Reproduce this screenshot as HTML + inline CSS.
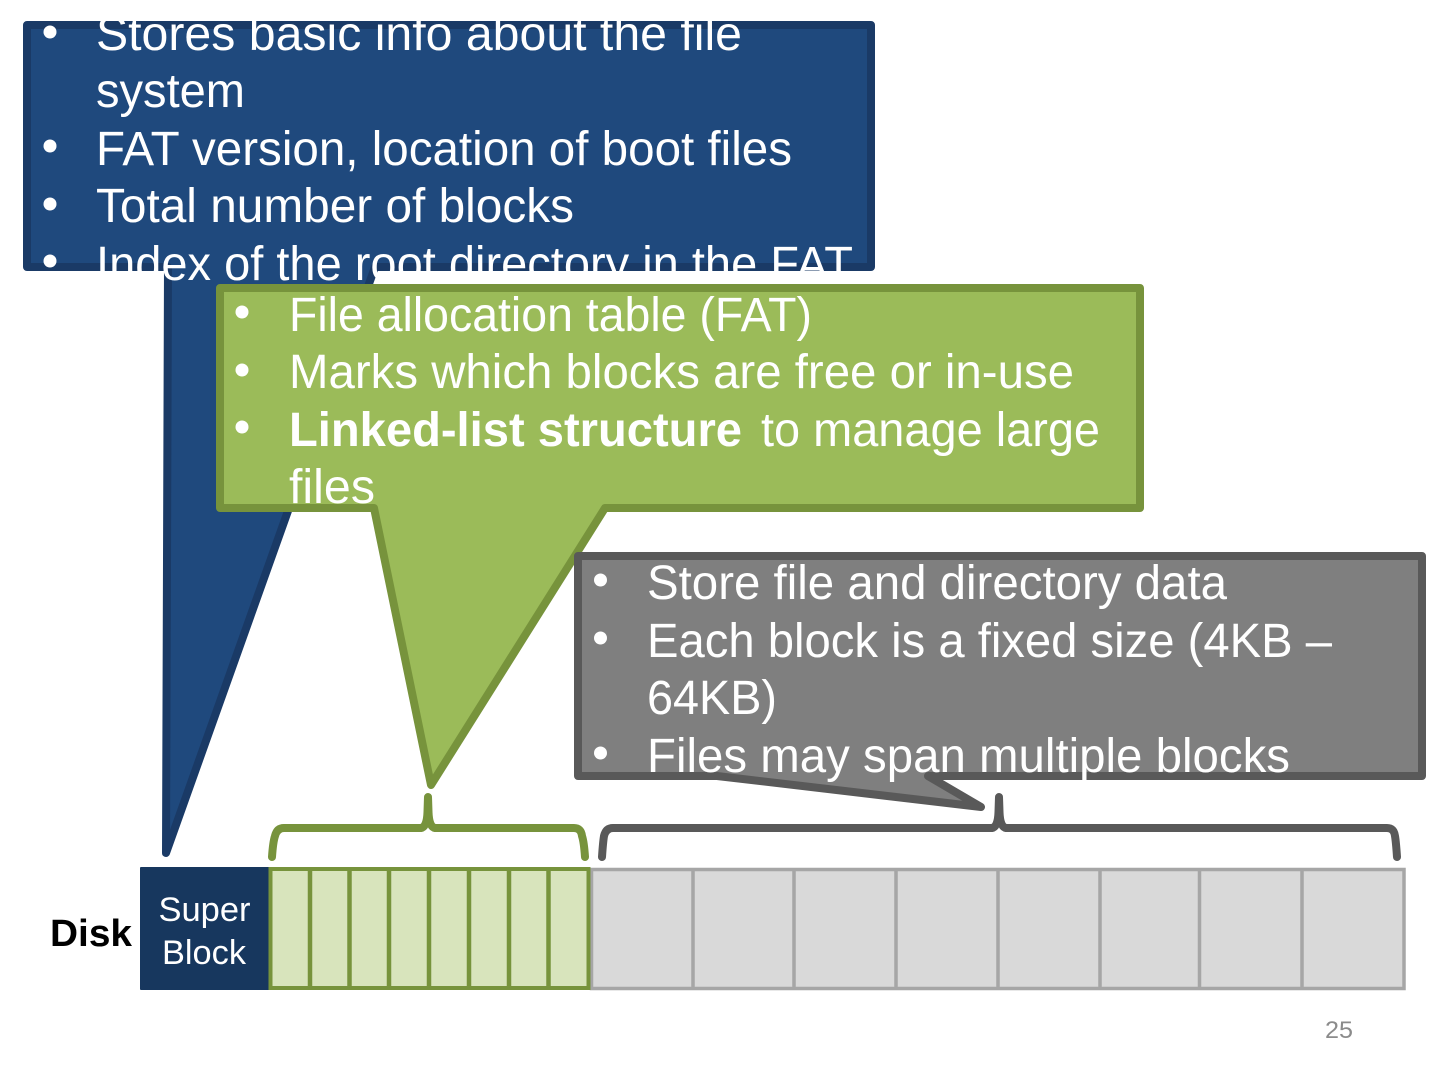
<!DOCTYPE html>
<html><head><meta charset="utf-8"><style>
html,body{margin:0;padding:0;background:#fff}
svg{display:block}
text{font-family:"Liberation Sans",sans-serif}
.t{font-size:48px;fill:#fff}
</style></head><body>
<svg width="1440" height="1080" viewBox="0 0 1440 1080" xmlns="http://www.w3.org/2000/svg">
<rect width="1440" height="1080" fill="#fff"/>
<path d="M27 25H871V267H375L166 853L168 267H27Z" fill="#1F497D" stroke="#1A3A66" stroke-width="8" stroke-linejoin="round"/>
<circle cx="50" cy="32" r="6.5" fill="#fff"/><circle cx="50" cy="146" r="6.5" fill="#fff"/><circle cx="50" cy="204" r="6.5" fill="#fff"/><circle cx="50" cy="261" r="6.5" fill="#fff"/>
<text class="t" x="96" y="50" textLength="646" lengthAdjust="spacingAndGlyphs">Stores basic info about the file</text>
<text class="t" x="96" y="107" textLength="149" lengthAdjust="spacingAndGlyphs">system</text>
<text class="t" x="96" y="165" textLength="696" lengthAdjust="spacingAndGlyphs">FAT version, location of boot files</text>
<text class="t" x="96" y="222" textLength="478" lengthAdjust="spacingAndGlyphs">Total number of blocks</text>
<text class="t" x="96" y="280" textLength="757" lengthAdjust="spacingAndGlyphs">Index of the root directory in the FAT</text>
<path d="M220 288H1140V508H605L431 785L374 508H220Z" fill="#9BBB59" stroke="#77933C" stroke-width="8" stroke-linejoin="round"/>
<circle cx="242" cy="312" r="6.5" fill="#fff"/><circle cx="242" cy="370" r="6.5" fill="#fff"/><circle cx="242" cy="427" r="6.5" fill="#fff"/>
<text class="t" x="289" y="331" textLength="523" lengthAdjust="spacingAndGlyphs">File allocation table (FAT)</text>
<text class="t" x="289" y="388" textLength="785" lengthAdjust="spacingAndGlyphs">Marks which blocks are free or in-use</text>
<text class="t" x="289" y="446" textLength="453" lengthAdjust="spacingAndGlyphs" style="font-weight:bold">Linked-list structure</text>
<text class="t" x="761" y="446" textLength="339" lengthAdjust="spacingAndGlyphs">to manage large</text>
<text class="t" x="289" y="503" textLength="86" lengthAdjust="spacingAndGlyphs">files</text>
<path d="M578 556H1422V776H928L981 807L717 776H578Z" fill="#7F7F7F" stroke="#595959" stroke-width="8" stroke-linejoin="round"/>
<circle cx="600.500" cy="580" r="6.5" fill="#fff"/><circle cx="600.500" cy="638" r="6.5" fill="#fff"/><circle cx="600.500" cy="753" r="6.5" fill="#fff"/>
<text class="t" x="647" y="599" textLength="580" lengthAdjust="spacingAndGlyphs">Store file and directory data</text>
<text class="t" x="647" y="657" textLength="685" lengthAdjust="spacingAndGlyphs">Each block is a fixed size (4KB –</text>
<text class="t" x="647" y="714" textLength="130" lengthAdjust="spacingAndGlyphs">64KB)</text>
<text class="t" x="647" y="772" textLength="643" lengthAdjust="spacingAndGlyphs">Files may span multiple blocks</text>
<path d="M272 857Q273 842 275 836Q277 828 284 828H421Q427 827 427.500 812L428 797L428.500 812Q429 827 435 828H574Q581 828 582 836Q584 842 585 857" fill="none" stroke="#77933C" stroke-width="8" stroke-linecap="round" stroke-linejoin="round"/>
<path d="M602 857Q603 842 604 836Q606 828 613 828H992Q998 827 998.500 812L999 797L999.500 812Q1000 827 1006 828H1387Q1394 828 1395 836Q1396 842 1397 857" fill="none" stroke="#595959" stroke-width="8" stroke-linecap="round" stroke-linejoin="round"/>
<rect x="591.500" y="869.500" width="812.500" height="119" fill="#D9D9D9" stroke="#A6A6A6" stroke-width="3.500"/>
<path d="M693 870V988M794 870V988M896 870V988M998 870V988M1100 870V988M1199.500 870V988M1302 870V988" stroke="#A6A6A6" stroke-width="3.500" fill="none"/>
<rect x="140" y="867" width="130" height="123" rx="1" fill="#17375E"/>
<text x="204.500" y="921" text-anchor="middle" font-size="34" fill="#fff" textLength="92" lengthAdjust="spacingAndGlyphs">Super</text>
<text x="204" y="964" text-anchor="middle" font-size="34" fill="#fff" textLength="84" lengthAdjust="spacingAndGlyphs">Block</text>
<rect x="270.500" y="869" width="318" height="119" fill="#D8E4BC" stroke="#77933C" stroke-width="4"/>
<path d="M310 870V988M349.500 870V988M389 870V988M429 870V988M469 870V988M509 870V988M548.500 870V988" stroke="#77933C" stroke-width="4.500" fill="none"/>
<text x="50" y="946" font-size="38" fill="#000" textLength="82" lengthAdjust="spacingAndGlyphs" style="font-weight:bold">Disk</text>
<text x="1325" y="1038" font-size="24" fill="#8B8B8B" textLength="28" lengthAdjust="spacingAndGlyphs">25</text>
</svg>
</body></html>
